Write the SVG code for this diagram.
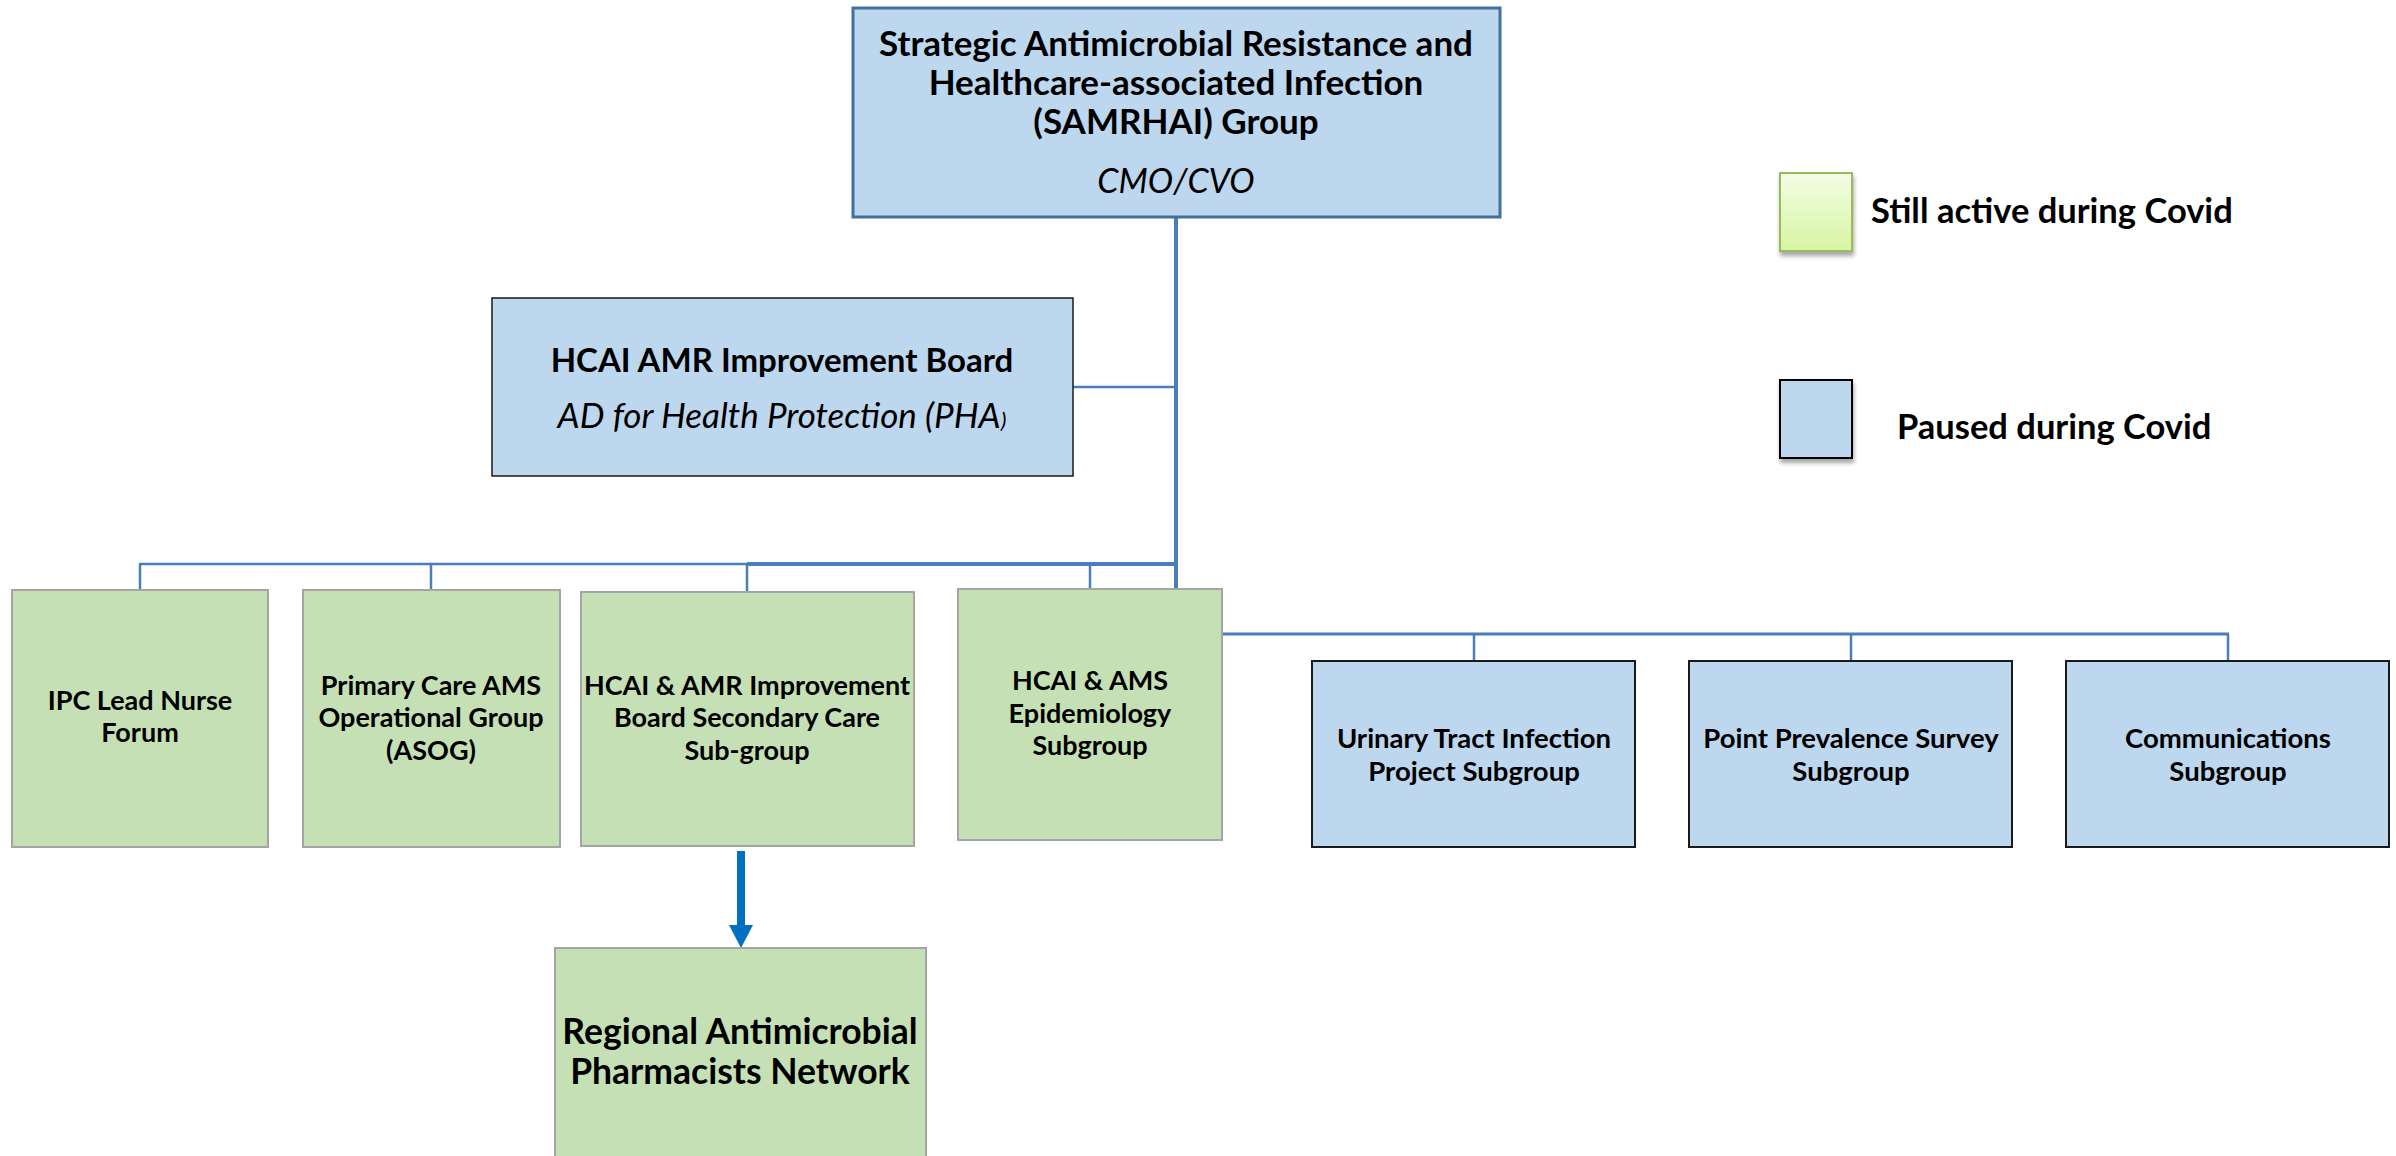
<svg xmlns="http://www.w3.org/2000/svg" width="2396" height="1156" viewBox="0 0 2396 1156">
<defs>
<style>
.t{font-family:Lato,"Liberation Sans",sans-serif;font-weight:bold;fill:#000;text-anchor:middle}
.i{font-family:Lato,"Liberation Sans",sans-serif;font-style:italic;fill:#000;text-anchor:middle}
.s{font-size:27px}
.green{fill:#c5e0b4;stroke:#a5a5a5;stroke-width:2}
.blue{fill:#bdd7ee;stroke:#1a1a1a;stroke-width:2}
.conn{stroke:#4a7ebb;fill:none}
</style>
<linearGradient id="lg" x1="0" y1="0" x2="0" y2="1">
<stop offset="0" stop-color="#f3fde6"/>
<stop offset="1" stop-color="#d6f5a2"/>
</linearGradient>
<filter id="sh" x="-20%" y="-20%" width="150%" height="150%">
<feDropShadow dx="1" dy="4" stdDeviation="2" flood-color="#000" flood-opacity="0.35"/>
</filter>
</defs>
<rect width="2396" height="1156" fill="#fff"/>
<g id="connectors">
<line class="conn" x1="1176" y1="216" x2="1176" y2="590" stroke-width="4"/>
<line class="conn" x1="1073" y1="387" x2="1176" y2="387" stroke-width="2.5"/>
<line class="conn" x1="139" y1="564" x2="747" y2="564" stroke-width="2.5"/>
<line class="conn" x1="747" y1="564" x2="1178" y2="564" stroke-width="4"/>
<line class="conn" x1="140" y1="564" x2="140" y2="590" stroke-width="2.5"/>
<line class="conn" x1="431" y1="564" x2="431" y2="590" stroke-width="2.5"/>
<line class="conn" x1="747" y1="564" x2="747" y2="592" stroke-width="2.5"/>
<line class="conn" x1="1090" y1="564" x2="1090" y2="589" stroke-width="2.5"/>
<line class="conn" x1="1222" y1="634" x2="2229" y2="634" stroke-width="3"/>
<line class="conn" x1="1474" y1="634" x2="1474" y2="661" stroke-width="2.5"/>
<line class="conn" x1="1851" y1="634" x2="1851" y2="661" stroke-width="2.5"/>
<line class="conn" x1="2228" y1="634" x2="2228" y2="661" stroke-width="2.5"/>
<rect x="737" y="851" width="8" height="76" fill="#0070c0"/>
<polygon points="729,925 753,925 741,948" fill="#0070c0"/>
</g>
<g id="samrhai">
<rect x="853" y="8" width="647" height="209" fill="#bdd7ee" stroke="#41719c" stroke-width="3"/>
<text class="t" x="1176" y="56" font-size="35">Strategic Antimicrobial Resistance and</text>
<text class="t" x="1176" y="95" font-size="35">Healthcare-associated Infection</text>
<text class="t" x="1176" y="134" font-size="35">(SAMRHAI) Group</text>
<text class="i" x="1176" y="193" font-size="34">CMO/CVO</text>
</g>
<g id="board">
<rect x="492" y="298" width="581" height="178" fill="#bdd7ee" stroke="#1a1a1a" stroke-width="1.5"/>
<text class="t" x="782" y="372" font-size="33">HCAI AMR Improvement Board</text>
<text class="i" x="782" y="428" font-size="35">AD for Health Protection (PHA<tspan font-size="22">)</tspan></text>
</g>
<g id="ipc">
<rect class="green" x="12" y="590" width="256" height="257"/>
<text class="t s" x="140" y="710">IPC Lead Nurse</text>
<text class="t s" x="140" y="742">Forum</text>
</g>
<g id="asog">
<rect class="green" x="303" y="590" width="257" height="257"/>
<text class="t s" x="431" y="695">Primary Care AMS</text>
<text class="t s" x="431" y="727">Operational Group</text>
<text class="t s" x="431" y="760">(ASOG)</text>
</g>
<g id="secondary">
<rect class="green" x="581" y="592" width="333" height="254"/>
<text class="t s" x="747" y="695">HCAI &amp; AMR Improvement</text>
<text class="t s" x="747" y="727">Board Secondary Care</text>
<text class="t s" x="747" y="760">Sub-group</text>
</g>
<g id="epi">
<rect class="green" x="958" y="589" width="264" height="251"/>
<text class="t s" x="1090" y="690">HCAI &amp; AMS</text>
<text class="t s" x="1090" y="723">Epidemiology</text>
<text class="t s" x="1090" y="755">Subgroup</text>
</g>
<g id="uti">
<rect class="blue" x="1312" y="661" width="323" height="186"/>
<text class="t" x="1474" y="748" font-size="27.5">Urinary Tract Infection</text>
<text class="t" x="1474" y="781" font-size="27.5">Project Subgroup</text>
</g>
<g id="pps">
<rect class="blue" x="1689" y="661" width="323" height="186"/>
<text class="t" x="1851" y="748" font-size="27.5">Point Prevalence Survey</text>
<text class="t" x="1851" y="781" font-size="27.5">Subgroup</text>
</g>
<g id="comms">
<rect class="blue" x="2066" y="661" width="323" height="186"/>
<text class="t" x="2228" y="748" font-size="27.5">Communications</text>
<text class="t" x="2228" y="781" font-size="27.5">Subgroup</text>
</g>
<g id="regional">
<rect class="green" x="555" y="948" width="371" height="230"/>
<text class="t" x="740" y="1044" font-size="35.5">Regional Antimicrobial</text>
<text class="t" x="740" y="1084" font-size="35.5">Pharmacists Network</text>
</g>
<g id="legend">
<rect x="1780" y="173" width="72" height="78" fill="url(#lg)" stroke="#9bbb59" stroke-width="2" filter="url(#sh)"/>
<text class="t" x="1871" y="223" font-size="34.5" style="text-anchor:start">Still active during Covid</text>
<rect x="1780" y="380" width="72" height="78" fill="#bdd7ee" stroke="#000" stroke-width="2" filter="url(#sh)"/>
<text class="t" x="1897" y="439" font-size="34.5" style="text-anchor:start">Paused during Covid</text>
</g>
</svg>
